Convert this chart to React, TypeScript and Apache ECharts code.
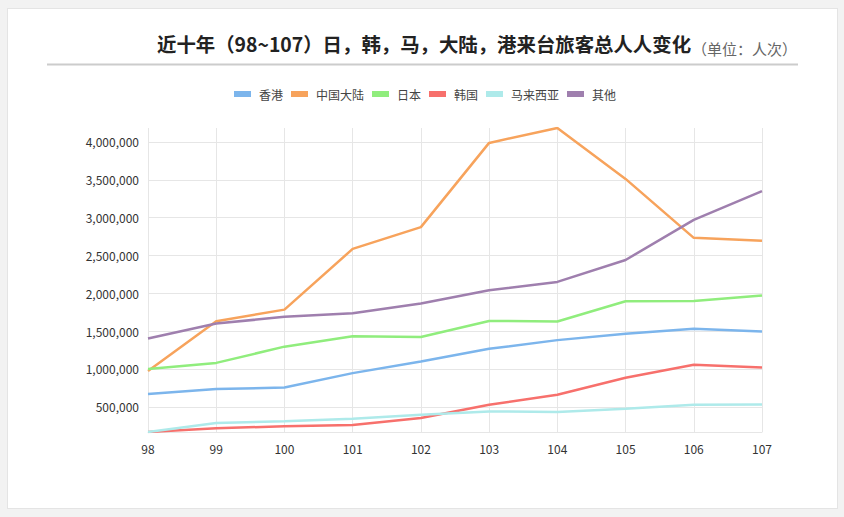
import React, { useEffect, useRef } from "react";
import * as echarts from "echarts";

const years = ["98", "99", "100", "101", "102", "103", "104", "105", "106", "107"];
const seriesNames = ["香港", "中国大陆", "日本", "韩国", "马来西亚", "其他"];
const hongKong = [668000, 734000, 755000, 945000, 1098000, 1266000, 1381000, 1464000, 1530000, 1495000];
const mainland = [972123, 1630735, 1784185, 2586428, 2874702, 3987152, 4184102, 3511734, 2732549, 2695615];
const japan = [1000661, 1080153, 1294758, 1432315, 1421550, 1634790, 1627229, 1895702, 1898854, 1969151];
const korea = [167641, 216901, 242902, 259089, 351301, 527684, 658757, 884397, 1054708, 1019441];
const malaysia = [166987, 285734, 307898, 341032, 394326, 439325, 431481, 474420, 528019, 530331];
const others = [1402000, 1600000, 1689000, 1735000, 1866000, 2040000, 2150000, 2440000, 2970000, 3350000];
const colors = ["#7cb5ec", "#f7a35c", "#90ed7d", "#f7706c", "#aeeaea", "#9f7fae"];
const titleMain = "近十年（98~107）日，韩，马，大陆，港来台旅客总人人变化";
const titleSub = "（单位：人次）";

const CJK = '"Noto Sans CJK SC", "Noto Sans", sans-serif';

export default function App() {
  const ref = useRef<HTMLDivElement>(null);
  useEffect(() => {
    if (!ref.current) return;
    const chart = echarts.init(ref.current, null, { renderer: "svg" });
    const allData = [hongKong, mainland, japan, korea, malaysia, others];
    chart.setOption({
      animation: false,
      backgroundColor: "transparent",
      graphic: [
        {
          type: "text",
          x: 157,
          y: 43,
          style: {
            text: titleMain,
            font: `bold 19.4px ${CJK}`,
            fill: "#222",
            textVerticalAlign: "middle",
          },
        },
        {
          type: "text",
          x: 692,
          y: 48,
          style: {
            text: titleSub,
            font: `15px ${CJK}`,
            fill: "#666",
            textVerticalAlign: "middle",
          },
        },
        {
          type: "line",
          shape: { x1: 47, y1: 64.5, x2: 798, y2: 64.5 },
          style: { stroke: "#cccccc", lineWidth: 2 },
        },
      ],
      legend: {
        left: 234,
        top: 88,
        padding: 0,
        icon: "rect",
        itemWidth: 17,
        itemHeight: 6,
        itemGap: 8,
        data: seriesNames,
        textStyle: { fontSize: 12, color: "#444", fontFamily: CJK, padding: [0, 0, 0, 3] },
      },
      grid: { left: 148, right: 82, top: 128, bottom: 85, containLabel: false },
      xAxis: {
        type: "category",
        data: years,
        boundaryGap: false,
        axisLine: { show: true, lineStyle: { color: "#e6e6e6" } },
        axisTick: { show: false },
        axisLabel: { color: "#333", fontSize: 12, fontFamily: CJK, margin: 10 },
        splitLine: { show: true, lineStyle: { color: "#e6e6e6", width: 1 } },
      },
      yAxis: {
        type: "value",
        min: "dataMin",
        max: "dataMax",
        splitNumber: 8,
        minInterval: 500000,
        maxInterval: 500000,
        axisLine: { show: false },
        axisTick: { show: false },
        axisLabel: {
          color: "#333",
          fontSize: 12,
          fontFamily: CJK,
          margin: 9,
          showMinLabel: false,
          showMaxLabel: false,
          formatter: (v: number) => v.toLocaleString("en-US"),
        },
        splitLine: {
          show: true,
          showMinLine: false,
          showMaxLine: false,
          lineStyle: { color: "#e6e6e6", width: 1 },
        },
      },
      series: seriesNames.map((name, i) => ({
        name,
        type: "line",
        data: allData[i],
        showSymbol: false,
        symbol: "none",
        lineStyle: { width: 2.5, color: colors[i] },
        itemStyle: { color: colors[i] },
      })),
    });
    return () => chart.dispose();
  }, []);
  return (
    <div style={{ position: "fixed", left: 0, top: 0, width: 844, height: 517, background: "#f2f2f2" }}>
      <div
        style={{
          position: "absolute",
          left: 7,
          top: 8,
          width: 829,
          height: 499,
          background: "#fff",
          border: "1px solid #e4e4e4",
        }}
      />
      <div ref={ref} style={{ position: "absolute", left: 0, top: 0, width: 844, height: 517 }} />
    </div>
  );
}
